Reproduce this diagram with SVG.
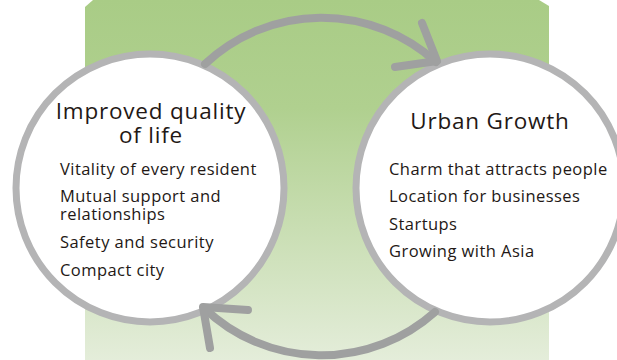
<svg xmlns="http://www.w3.org/2000/svg" width="617" height="360" viewBox="0 0 617 360">
  <defs>
    <linearGradient id="bg" x1="0" y1="0" x2="0" y2="1">
      <stop offset="0" stop-color="#a9cc86"/>
      <stop offset="0.3" stop-color="#b0d08f"/>
      <stop offset="1" stop-color="#e4edda"/>
    </linearGradient>
  </defs>
  <style>
    .circ { fill: #ffffff; stroke: #b4b4b5; stroke-width: 7; }
    .arrow { fill: none; stroke: #9fa0a0; stroke-width: 8; stroke-linecap: round; stroke-linejoin: round; }
    .title { font-family: "Open Sans", "Noto Sans", sans-serif; font-size: 22.5px; letter-spacing: 0.8px; fill: #231815; text-anchor: middle; }
    .item { font-family: "Open Sans", "Noto Sans", sans-serif; font-size: 16.5px; letter-spacing: 0.45px; fill: #231815; }
  </style>
  <polygon id="background" points="93,0 539,0 549,6 549,360 85,360 85,7" fill="url(#bg)"/>
  <g id="node-quality">
    <circle class="circ" cx="150" cy="188" r="134"/>
    <text class="title" x="151" y="119">Improved quality<tspan x="151" dy="24">of life</tspan></text>
    <text class="item" x="60" y="175">Vitality of every resident</text>
    <text class="item" x="60" y="202">Mutual support and<tspan x="60" dy="18">relationships</tspan></text>
    <text class="item" x="60" y="248">Safety and security</text>
    <text class="item" x="60" y="276">Compact city</text>
  </g>
  <g id="node-growth">
    <circle class="circ" cx="490" cy="188" r="134"/>
    <text class="title" x="490" y="129">Urban Growth</text>
    <text class="item" x="389" y="175">Charm that attracts people</text>
    <text class="item" x="389" y="202">Location for businesses</text>
    <text class="item" x="389" y="230">Startups</text>
    <text class="item" x="389" y="257">Growing with Asia</text>
  </g>
  <g id="connectors">
    <path class="arrow" d="M205,64 A170,170 0 0 1 436,62"/>
    <path class="arrow" d="M422,23 L437,61 L395,67"/>
    <path class="arrow" d="M435,312 A170,170 0 0 1 204,308"/>
    <path class="arrow" d="M248,310 L203,307 L210,348"/>
  </g>
</svg>
